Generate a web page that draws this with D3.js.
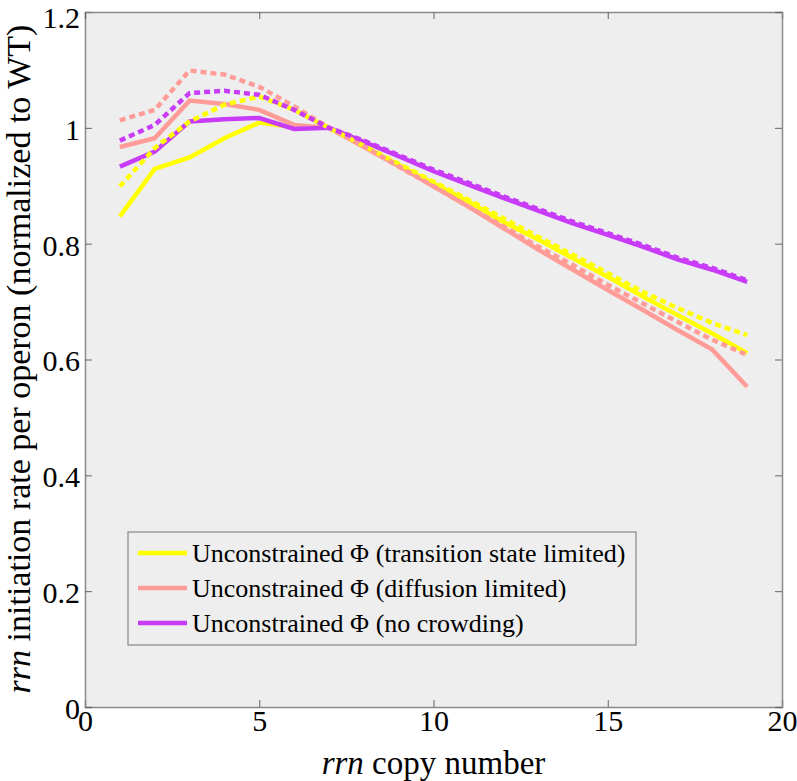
<!DOCTYPE html>
<html><head><meta charset="utf-8">
<script src="https://cdn.jsdelivr.net/npm/d3@7"></script>
<style>body{margin:0;background:#fff}svg text{font-family:"Liberation Serif","Times New Roman",serif}</style>
</head><body><svg id="c" width="797" height="781"></svg>
<script>
const copyNumbers = [1,2,3,4,5,6,7,8,9,10,11,12,13,14,15,16,17,18,19];
const yellowSolid = [0.847,0.929,0.949,0.982,1.009,1.001,1.0,0.968,0.936,0.904,0.873,0.838,0.807,0.775,0.743,0.709,0.677,0.645,0.611];
const yellowDotted = [0.899,0.965,1.011,1.040,1.054,1.031,1.0,0.969,0.938,0.907,0.876,0.844,0.812,0.781,0.749,0.717,0.689,0.663,0.642];
const pinkSolid = [0.967,0.982,1.047,1.041,1.031,1.005,1.0,0.967,0.934,0.899,0.864,0.827,0.790,0.755,0.720,0.686,0.651,0.617,0.553];
const pinkDotted = [1.013,1.031,1.099,1.092,1.071,1.037,1.0,0.968,0.933,0.899,0.864,0.830,0.795,0.763,0.729,0.697,0.665,0.634,0.608];
const purpleSolid = [0.933,0.959,1.011,1.015,1.017,0.998,1.0,0.976,0.951,0.925,0.902,0.879,0.857,0.835,0.815,0.795,0.773,0.755,0.734];
const purpleDotted = [0.978,1.005,1.060,1.064,1.057,1.031,1.0,0.978,0.953,0.928,0.905,0.882,0.860,0.838,0.818,0.798,0.776,0.758,0.737];
const xTicks = [0,5,10,15,20];
const yTicks = [0,0.2,0.4,0.6,0.8,1,1.2];
const legendLabels = ["Unconstrained \u03A6 (transition state limited)","Unconstrained \u03A6 (diffusion limited)","Unconstrained \u03A6 (no crowding)"];

const colors = {yellow:"#ffff00", pink:"#ff9c98", purple:"#c83cf8"};
const series = [
  {v:yellowDotted,c:colors.yellow,dash:true},
  {v:pinkDotted,c:colors.pink,dash:true},
  {v:purpleDotted,c:colors.purple,dash:true},
  {v:yellowSolid,c:colors.yellow,dash:false},
  {v:pinkSolid,c:colors.pink,dash:false},
  {v:purpleSolid,c:colors.purple,dash:false}
];

const L=85,R=782,T=12,B=707;
const svg=d3.select("#c");
const x=d3.scaleLinear().domain([0,20]).range([L,R]);
const y=d3.scaleLinear().domain([0,1.2]).range([B,T]);

svg.append("rect").attr("x",L).attr("y",T).attr("width",R-L).attr("height",B-T).attr("fill","#eeeeee");

const line=d3.line().x((d,i)=>x(copyNumbers[i])).y(d=>y(d));
[3,4,5,0,1,2].forEach(k=>{
  const s=series[k];
  svg.append("path").datum(s.v).attr("d",line).attr("fill","none")
    .attr("stroke",s.c).attr("stroke-width",4.5)
    .attr("stroke-dasharray",s.dash?"6,4":null);
});

// axes
const ax=svg.append("g").attr("transform",`translate(0,${B})`).call(d3.axisBottom(x).tickValues(xTicks).tickSize(-7).tickPadding(3).tickFormat(d3.format("d")));
const ay=svg.append("g").attr("transform",`translate(${L},0)`).call(d3.axisLeft(y).tickValues(yTicks).tickSize(-7).tickPadding(5).tickFormat(d=>d===0?"0":d3.format("")(+d.toFixed(1))));
svg.append("g").attr("transform",`translate(0,${T})`).call(d3.axisTop(x).tickValues(xTicks).tickSize(-7).tickFormat(""));
svg.append("g").attr("transform",`translate(${R},0)`).call(d3.axisRight(y).tickValues(yTicks).tickSize(-7).tickFormat(""));
svg.selectAll(".domain").attr("stroke","#8a8a8a").attr("stroke-width",1.5);
svg.selectAll(".tick line").attr("stroke","#666");
svg.selectAll(".tick text").attr("font-size",30).attr("fill","#000").attr("font-family","Liberation Serif");
ax.selectAll(".tick text").attr("dy","0.71em");
ay.selectAll(".tick text").attr("dy",d=>d===1.2?"0.5em":"0.38em");

// axis titles
const xt=svg.append("text").attr("x",(L+R)/2).attr("y",774).attr("text-anchor","middle").attr("font-size",33);
xt.append("tspan").attr("font-style","italic").text("rrn");
xt.append("tspan").text(" copy number");
const yt=svg.append("text").attr("transform",`translate(30,359) rotate(-90)`).attr("text-anchor","middle").attr("font-size",34);
yt.append("tspan").attr("font-style","italic").text("rrn");
yt.append("tspan").text(" initiation rate per operon (normalized to WT)");

// legend
const lg=svg.append("g");
lg.append("rect").attr("x",128).attr("y",532).attr("width",508).attr("height",113).attr("fill","#eeeeee").attr("stroke","#888").attr("stroke-width",1.2);
[colors.yellow,colors.pink,colors.purple].forEach((c,i)=>{
  const yy=553+i*35;
  lg.append("line").attr("x1",138).attr("x2",187).attr("y1",yy).attr("y2",yy).attr("stroke",c).attr("stroke-width",4.5);
  lg.append("text").attr("x",192).attr("y",yy).attr("dy","0.35em").attr("font-size",26).text(legendLabels[i]);
});
</script></body></html>
